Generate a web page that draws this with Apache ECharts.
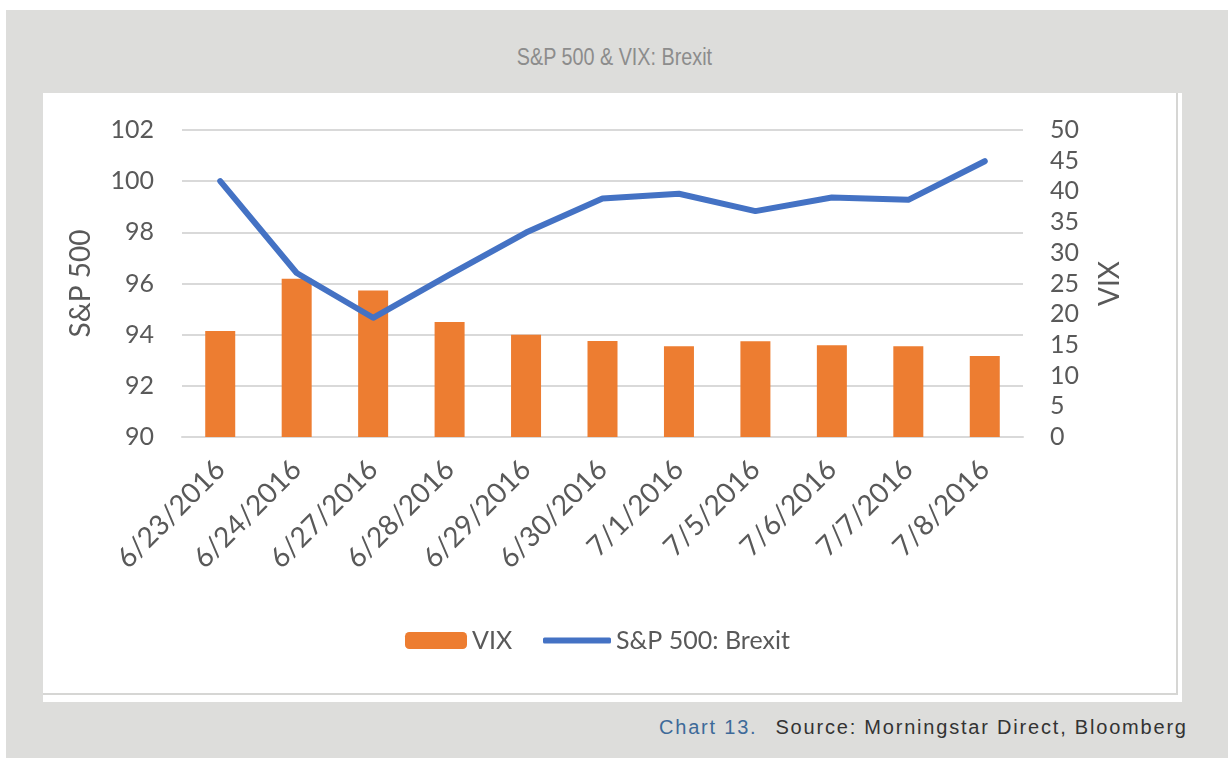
<!DOCTYPE html>
<html>
<head>
<meta charset="utf-8">
<script src="https://cdn.jsdelivr.net/npm/echarts@6/dist/echarts.min.js"></script>
<style>
  html, body { margin: 0; padding: 0; }
  body { width: 1228px; height: 758px; position: relative; background: #fff; overflow: hidden; }
  .bg { position: absolute; left: 6px; top: 10px; right: 0; bottom: 0; background: #dddddb; }
  .panel { position: absolute; left: 43px; top: 93px; width: 1139px; height: 609px; background: #fff; }
  .edge-r { position: absolute; left: 1176px; top: 93px; width: 2px; height: 602px; background: #d6d6d4; }
  .edge-b { position: absolute; left: 43px; top: 693px; width: 1135px; height: 2px; background: #d6d6d4; }
  .title { position: absolute; left: 0; width: 1228px; top: 44px; text-align: center;
           font-family: "Liberation Sans Narrow", "Liberation Sans", sans-serif; font-size: 23px; color: #8c8c8c;
           transform: scaleX(0.86); transform-origin: 617px 0; }
  .caption { position: absolute; left: 659px; top: 716px; font-family: "Liberation Sans", sans-serif;
             font-size: 20px; letter-spacing: 1.8px; color: #333; white-space: nowrap; }
  .caption .num { color: #3d6a99; margin-right: 18px; }
  #chart { position: absolute; left: 43px; top: 93px; width: 1139px; height: 600px; }
</style>
</head>
<body>
<div class="bg"></div>
<div class="panel"></div>
<div class="edge-r"></div>
<div class="edge-b"></div>
<div class="title">S&amp;P 500 &amp; VIX: Brexit</div>
<div class="caption"><span class="num">Chart 13.</span>Source: Morningstar Direct, Bloomberg</div>
<div id="chart"></div>
<script>
// trading days around the Brexit vote
const dates = ['6/23/2016', '6/24/2016', '6/27/2016', '6/28/2016', '6/29/2016', '6/30/2016',
  '7/1/2016', '7/5/2016', '7/6/2016', '7/7/2016', '7/8/2016']
// VIX close (right axis)
const vix = [17.25, 25.76, 23.85, 18.75, 16.64, 15.63, 14.77, 15.58, 14.96, 14.76, 13.2]
// S&P 500 indexed to 100 on 6/23 (left axis)
const spx = [100, 96.41, 94.66, 96.35, 97.99, 99.32, 99.51, 98.83, 99.36, 99.27, 100.78]

const labelColor = '#595959'
const font = 'Lato, "Open Sans", sans-serif'

const chart = echarts.init(document.getElementById('chart'))
chart.setOption({
  animation: false,
  textStyle: { fontFamily: font },
  grid: { left: 139, right: 159, top: 37, bottom: 256 },
  legend: [{
    data: ['VIX'],
    left: 357,
    top: 530,
    itemWidth: 62,
    itemHeight: 17,
    textStyle: { fontSize: 25, color: labelColor, fontFamily: font }
  }, {
    data: [{ name: 'S&P 500: Brexit', icon: 'roundRect' }],
    left: 495,
    top: 530,
    itemWidth: 68,
    itemHeight: 6,
    textStyle: { fontSize: 25, color: labelColor, fontFamily: font }
  }],
  xAxis: {
    type: 'category',
    data: dates,
    axisLine: { lineStyle: { color: '#d9d9d9', width: 2 } },
    axisTick: { show: false },
    axisLabel: { rotate: 45, fontSize: 28, color: labelColor, margin: 28, interval: 0 }
  },
  yAxis: [{
    type: 'value',
    min: 90,
    max: 102,
    interval: 2,
    name: 'S&P 500',
    nameLocation: 'middle',
    nameRotate: 90,
    nameGap: 87,
    nameTextStyle: { fontSize: 28, color: labelColor },
    axisLine: { show: false },
    axisTick: { show: false },
    axisLabel: { fontSize: 25, color: labelColor, margin: 28 },
    splitLine: { lineStyle: { color: '#d9d9d9', width: 2 } }
  }, {
    type: 'value',
    min: 0,
    max: 50,
    interval: 5,
    name: 'VIX',
    nameLocation: 'middle',
    nameRotate: 90,
    nameGap: 73,
    nameTextStyle: { fontSize: 28, color: labelColor },
    axisLine: { show: false },
    axisTick: { show: false },
    axisLabel: { fontSize: 25, color: labelColor, margin: 27 },
    splitLine: { show: false }
  }],
  series: [{
    name: 'VIX',
    type: 'bar',
    yAxisIndex: 1,
    data: vix,
    barWidth: 30,
    itemStyle: { color: '#ed7d31' }
  }, {
    name: 'S&P 500: Brexit',
    type: 'line',
    yAxisIndex: 0,
    data: spx,
    symbol: 'none',
    lineStyle: { color: '#4472c4', width: 6, cap: 'round', join: 'round' },
    itemStyle: { color: '#4472c4' }
  }]
})
</script>
</body>
</html>
